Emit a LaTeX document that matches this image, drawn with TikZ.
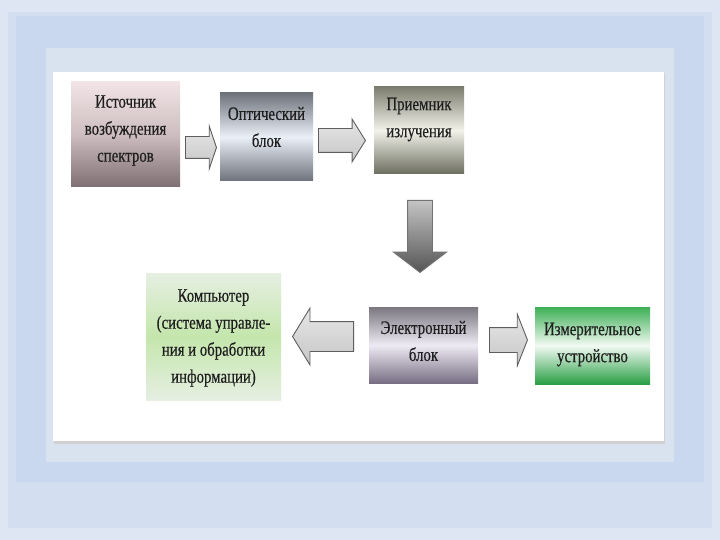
\documentclass[tikz,border=0pt]{standalone}
\usepackage{fontspec}
\newfontfamily\boxfont{Liberation Serif}[FakeStretch=0.78, FakeBold=0.4]
\usepackage{tikz}
\usetikzlibrary{shapes.arrows}
\usepackage{xcolor}
\definecolor{frameOuter}{HTML}{DEE6F4}
\definecolor{frameBand}{HTML}{CAD8EF}
\definecolor{frameSoft}{HTML}{D4DEF1}
\definecolor{frameInner}{HTML}{D9E3F0}
\definecolor{inkGray}{HTML}{1E1E1E}
\definecolor{srcTop}{HTML}{F2E4E6}
\definecolor{srcMid}{HTML}{CDBDC0}
\definecolor{srcBot}{HTML}{7E6F73}
\definecolor{optEdge}{HTML}{6E727A}
\definecolor{optMid}{HTML}{EAF0F8}
\definecolor{rcvTop}{HTML}{7D7E6F}
\definecolor{rcvMid}{HTML}{F2F2EA}
\definecolor{rcvBot}{HTML}{6C6E5F}
\definecolor{pcEdge}{HTML}{E6EFE2}
\definecolor{pcMid}{HTML}{C4E6AC}
\definecolor{elTop}{HTML}{7B7780}
\definecolor{elMid}{HTML}{EEEAF4}
\definecolor{elBot}{HTML}{786F84}
\definecolor{measTop}{HTML}{3DAF55}
\definecolor{measMid}{HTML}{F2FAF3}
\definecolor{measBot}{HTML}{2A9F45}
\definecolor{arrowTop}{HTML}{E6E6E6}
\definecolor{arrowBot}{HTML}{C6C6C6}
\definecolor{arrowEdge}{HTML}{5E5E5E}
\definecolor{downTop}{HTML}{C4C4C4}
\definecolor{downBot}{HTML}{555555}

\begin{document}
\begin{tikzpicture}[x=1pt, y=-1pt,
    unit/.style={inner sep=0pt},
    caption/.style={font=\boxfont\fontsize{19}{27}\selectfont, text=inkGray, align=center, inner sep=0pt},
    blk/.style={shape=single arrow, single arrow head indent=0pt, draw=arrowEdge, line width=0.9pt,
      top color=arrowTop, bottom color=arrowBot, anchor=tail}]
  % frame
  \useasboundingbox (0,0) rectangle (720,540);
  \fill[frameOuter] (0,0) rectangle (720,540);
  \fill[frameSoft] (8,12) rectangle (712,528);
  \fill[frameBand] (16,16) rectangle (704,482);
  \fill[frameInner] (46,48) rectangle (674,462);
  \fill[black!18] (54,73) rectangle (665,444);
  \fill[white] (53,72) rectangle (664,441);

  % boxes
  \node[unit, minimum width=109pt, minimum height=105pt, top color=srcTop, bottom color=srcBot, middle color=srcMid,
    label={[caption, yshift=4pt]center:{Источник\\возбуждения\\спектров}}] (src) at (125.5,134.5) {};
  \node[unit, minimum width=93pt, minimum height=88pt, top color=optEdge, bottom color=optEdge, middle color=optMid,
    label={[caption, yshift=10pt]center:{Оптический\\блок}}] (opt) at (266.5,137) {};
  \node[unit, minimum width=90pt, minimum height=87pt, top color=rcvTop, bottom color=rcvBot, middle color=rcvMid,
    label={[caption, yshift=11pt]center:{Приемник\\излучения}}] (rcv) at (419,130.5) {};
  \node[unit, minimum width=109pt, minimum height=76pt, top color=elTop, bottom color=elBot, middle color=elMid,
    label={[caption, yshift=4pt]center:{Электронный\\блок}}] (el) at (423.5,345) {};
  \node[unit, minimum width=135pt, minimum height=127pt, top color=pcEdge, bottom color=pcEdge, middle color=pcMid,
    label={[caption, yshift=-1.5pt]center:{Компьютер\\(система управле-\\ния и обработки\\информации)}}] (pc) at (213.5,336.5) {};
  \node[unit, minimum width=115pt, minimum height=77pt, top color=measTop, bottom color=measBot, middle color=measMid,
    label={[caption, yshift=1pt]center:{Измерительное\\устройство}}] (meas) at (592.5,345.5) {};

  % block arrows
  \node[blk, minimum height=31pt, inner sep=10.5pt, single arrow head extend=10.5pt, single arrow tip angle=143] (a1) at (185,147.5) {};
  \node[blk, minimum height=47pt, inner sep=11.5pt, single arrow head extend=9.5pt, single arrow tip angle=116] (a2) at (318,140.5) {};
  \node[blk, minimum height=72pt, inner sep=12pt, single arrow head extend=14pt, single arrow tip angle=105,
    shape border rotate=270, top color=downTop, bottom color=downBot, draw=black!55] (a3) at (420,200) {};
  \node[blk, minimum height=61pt, inner sep=14.5pt, single arrow head extend=13.5pt, single arrow tip angle=117,
    shape border rotate=180] (a4) at (354,336.5) {};
  \node[blk, minimum height=38pt, inner sep=12pt, single arrow head extend=13.5pt, single arrow tip angle=137] (a5) at (489,340) {};
\end{tikzpicture}
\end{document}
